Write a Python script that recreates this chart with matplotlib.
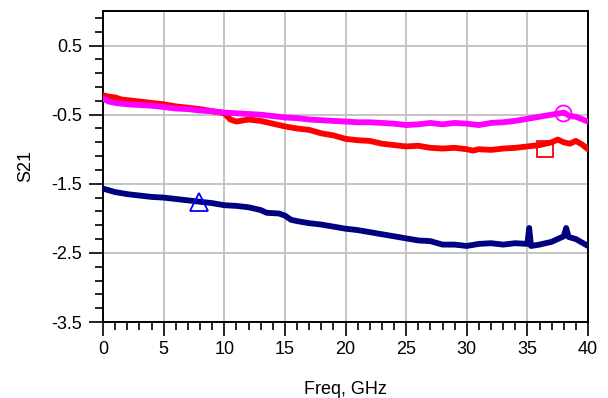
import numpy as np
import matplotlib
matplotlib.use("Agg")
import matplotlib.pyplot as plt
from matplotlib.ticker import MultipleLocator, FixedLocator

plt.rcParams['font.family'] = ['Liberation Sans', 'DejaVu Sans']

# ---- data ----
red_f = [0, 0.5, 1, 1.5, 2, 3, 4, 5, 6, 7, 8, 9, 10, 10.5, 11, 12, 13, 14, 15, 16, 17, 18, 19, 20,
         21, 22, 23, 24, 25, 26, 27, 28, 29, 30, 30.5, 31, 32, 33, 34, 35, 36, 37, 37.5, 38, 38.5, 39, 39.5, 40]
red_s = [-0.22, -0.24, -0.25, -0.28, -0.29, -0.31, -0.33, -0.35, -0.38, -0.40, -0.42, -0.45, -0.48, -0.57,
         -0.60, -0.57, -0.59, -0.63, -0.67, -0.70, -0.72, -0.77, -0.80, -0.85, -0.87, -0.88,
         -0.92, -0.94, -0.96, -0.95, -0.98, -0.99, -0.98, -1.00, -1.02, -1.00, -1.01, -0.99, -0.98,
         -0.96, -0.94, -0.90, -0.86, -0.90, -0.92, -0.88, -0.93, -1.00]

mag_f = [0, 0.5, 1, 2, 3, 4, 5, 6, 7, 8, 9, 10, 11, 12, 13, 14, 15, 16, 17, 18, 19, 20,
         21, 22, 23, 24, 25, 26, 27, 28, 29, 30, 31, 32, 33, 34, 35, 36, 37, 38, 38.5, 39, 40]
mag_s = [-0.27, -0.31, -0.33, -0.35, -0.36, -0.37, -0.39, -0.41, -0.42, -0.44, -0.45, -0.47,
         -0.48, -0.49, -0.50, -0.52, -0.54, -0.55, -0.57, -0.58, -0.59, -0.60, -0.61, -0.61,
         -0.62, -0.63, -0.65, -0.64, -0.62, -0.64, -0.62, -0.63, -0.65, -0.62, -0.61, -0.59,
         -0.56, -0.53, -0.50, -0.47, -0.52, -0.53, -0.60]

navy_f = [0, 1, 2, 3, 4, 5, 6, 7, 8, 9, 10, 11, 12, 13, 13.5, 14.5, 15, 15.5, 16, 17, 18, 19,
          20, 21, 22, 23, 24, 25, 26, 27, 28, 29, 30, 31, 32, 33, 34, 35, 35.15, 35.3, 36, 37,
          38, 38.2, 38.4, 39, 40]
navy_s = [-1.57, -1.62, -1.65, -1.67, -1.69, -1.70, -1.72, -1.74, -1.76, -1.78, -1.81, -1.82,
          -1.84, -1.88, -1.92, -1.93, -1.96, -2.02, -2.04, -2.07, -2.09, -2.12, -2.15, -2.17,
          -2.20, -2.23, -2.26, -2.29, -2.32, -2.33, -2.38, -2.38, -2.40, -2.37, -2.36, -2.38,
          -2.36, -2.37, -2.14, -2.40, -2.38, -2.34, -2.26, -2.14, -2.27, -2.30, -2.40]

# markers (freq, value)
tri_pt = (7.9, -1.77)
sq_pt = (36.45, -0.99)
circ_pt = (37.9, -0.47)

x_ticks = [0, 5, 10, 15, 20, 25, 30, 35, 40]
y_ticks = [0.5, -0.5, -1.5, -2.5, -3.5]

# ---- figure ----
fig = plt.figure(figsize=(6.08, 3.98), dpi=100)
ax = fig.add_axes([103/608, 1-322/398, (588-103)/608, (322-11)/398])

lw = 4.2
ax.plot(navy_f, navy_s, color='#000080', lw=lw, solid_capstyle='round', solid_joinstyle='round', zorder=3)
ax.plot(red_f, red_s, color='#ff0000', lw=lw, solid_capstyle='round', solid_joinstyle='round', zorder=3)
ax.plot(mag_f, mag_s, color='#ff00ff', lw=lw, solid_capstyle='round', solid_joinstyle='round', zorder=4)

ax.plot([tri_pt[0]], [tri_pt[1]], marker='^', ms=13, mfc='none', mec='#0000ff', mew=1.3, zorder=5)
ax.plot([sq_pt[0]], [sq_pt[1]], marker='s', ms=11.5, mfc='none', mec='#ff0000', mew=1.3, zorder=5)
ax.plot([circ_pt[0]], [circ_pt[1]], marker='o', ms=11.5, mfc='none', mec='#ff00ff', mew=1.3, zorder=5)

ax.set_xlim(0, 40)
ax.set_ylim(-3.5, 1.0)

ax.xaxis.set_major_locator(FixedLocator(x_ticks))
ax.xaxis.set_minor_locator(MultipleLocator(1))
ax.yaxis.set_major_locator(FixedLocator(y_ticks))
ax.yaxis.set_minor_locator(FixedLocator(np.arange(-3.5, 1.01, 0.2)))
ax.set_yticklabels([f"{v:g}" for v in y_ticks])

ax.tick_params(axis='both', which='major', direction='out', length=10, width=1.2,
               color='black', labelsize=13, pad=4)
ax.tick_params(axis='both', which='minor', direction='out', length=5.5, width=1.2, color='black')
ax.tick_params(axis='y', which='major', pad=5)
ax.tick_params(axis='x', which='major', pad=3.5)

ax.grid(True, which='major', color='#c0c0c0', lw=1.3, zorder=0)
ax.set_axisbelow(True)

for sp in ax.spines.values():
    sp.set_color('black')
    sp.set_linewidth(1.4)

ax.set_ylabel('S21', fontsize=13, labelpad=12)
ax.set_xlabel('Freq, GHz', fontsize=13, labelpad=17)

fig.savefig('out.png', dpi=100)
